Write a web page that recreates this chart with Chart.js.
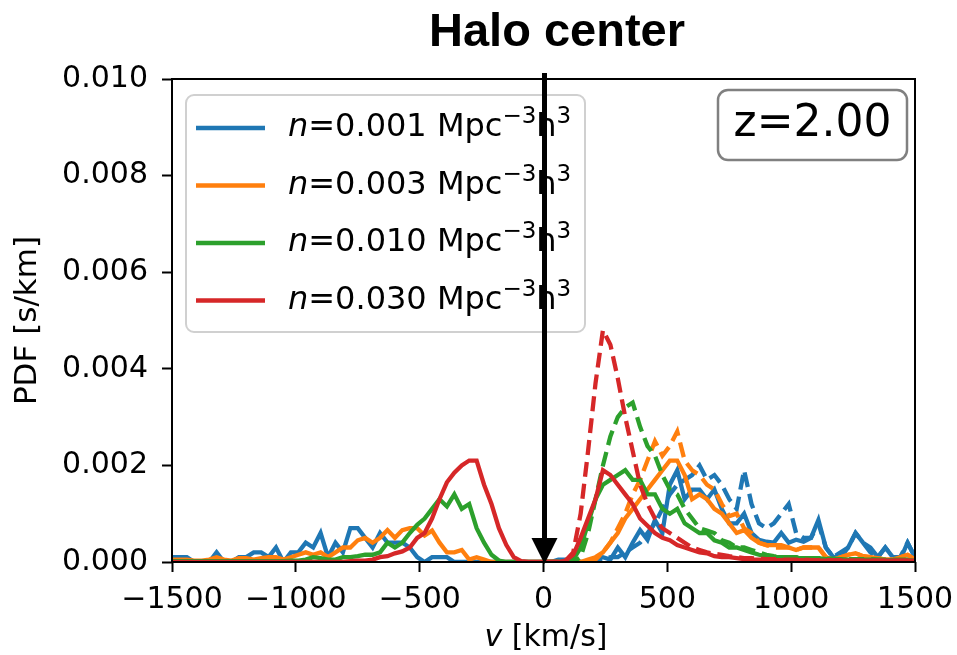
<!DOCTYPE html>
<html>
<head>
<meta charset="utf-8">
<script src="https://cdn.jsdelivr.net/npm/chart.js@4.4.1/dist/chart.umd.min.js"></script>
<style>
  html, body { margin: 0; padding: 0; background: #fff; }
  #wrap { width: 957px; height: 655px; }
</style>
</head>
<body>
<div id="wrap"><canvas id="pdf" width="957" height="655"></canvas></div>
<script>
// velocity bins [km/s], 30 km/s apart
const V_FULL = [
  -1500, -1470, -1440, -1410, -1380, -1350, -1320, -1290, -1260, -1230,
  -1200, -1170, -1140, -1110, -1080, -1050, -1020, -990, -960, -930,
  -900, -870, -840, -810, -780, -750, -720, -690, -660, -630,
  -600, -570, -540, -510, -480, -450, -420, -390, -360, -330,
  -300, -270, -240, -210, -180, -150, -120, -90, -60, -30,
  0, 30, 60, 90, 120, 150, 180, 210, 240, 270,
  300, 330, 360, 390, 420, 450, 480, 510, 540, 570,
  600, 630, 660, 690, 720, 750, 780, 810, 840, 870,
  900, 930, 960, 990, 1020, 1050, 1080, 1110, 1140, 1170,
  1200, 1230, 1260, 1290, 1320, 1350, 1380, 1410, 1440, 1470,
  1500,
];
const V_POS = V_FULL.slice(50);

const X_TICKS = [-1500, -1000, -500, 0, 500, 1000, 1500];
const Y_TICKS = [0, 0.002, 0.004, 0.006, 0.008, 0.010];

const DENSITIES = ["0.001", "0.003", "0.010", "0.030"];
const COLORS = ["#1f77b4", "#ff7f0e", "#2ca02c", "#d62728"];
const REDSHIFT = "z=2.00";

// solid lines, full velocity range
const BLUE_SOLID = [
  .0001, .0001, .0001, 0, 0, 0, .0002, 0, 0, .0001,
  .0001, .0002, .0002, .0001, .0003, 0, .0002, .0002, .0004, .0003,
  .0006, .0001, .0004, .0002, .0007, .0007, .0005, .0003, .0006, .0004,
  .0004, .0004, .0003, .0001, 0, .0001, .0001, .0001, 0, 0,
  0, 0, 0, 0, 0, 0, 0, 0, 0, 0,
  0, 0, .00005, .00005, 0, 0, 0, .00005, .0001, .00005,
  .0003, .0001, .0004, .00066, .00046, .00087, .0006, .0016, .0019, .0013,
  .0015, .0015, .0013, .0015, .0011, .0008, .0008, .001, .0006, .00046,
  .00042, .0004, .0006, .0004, .00046, .00042, .0005, .00087, .0003, .0001,
  .0001, .0003, .0006, .0004, .0003, .0001, .0003, .0001, .00005, .0004,
  .0001,
];
const ORANGE_SOLID = [
  .00005, .00005, .00005, .00003, .00003, .00005, .0001, .00005, .00003, .00008,
  .00008, .00005, .00008, .0001, .0001, .00005, .0001, .00015, .0002, .00015,
  .0002, .0001, .0002, .0003, .0003, .00045, .0005, .0004, .0005, .00066,
  .0005, .00066, .0007, .0007, .00055, .00065, .0004, .0002, .0002, .00025,
  .00005, .0001, .00005, 0, 0, 0, 0, 0, 0, 0,
  0, 0, 0, 0, 0, 0, .00005, .0001, .0002, .0004,
  .0006, .0009, .0011, .0013, .0015, .0017, .0019, .0021, .0021, .0018,
  .0013, .0014, .0013, .0011, .001, .0008, .0006, .00066, .0005, .0004,
  .00035, .00035, .00035, .0003, .00025, .0003, .0003, .0003, .0001, .00005,
  .0001, .00015, .00018, .00012, .0001, .00008, .00005, .00005, .0001, .00015,
  .00005,
];
const GREEN_SOLID = [
  .00002, .00002, .00002, .00002, .00002, .00002, .00002, .00002, .00002, .00002,
  .00002, .00002, .00002, .00002, .00002, .00002, .00003, .00003, .00005, .0001,
  .00008, .00005, .00005, .0001, .0001, .00012, .00015, .00015, .0002, .0004,
  .0003, .0004, .0006, .00077, .0009, .0011, .0013, .00115, .0014, .0011,
  .0012, .0007, .0004, .00015, .00003, 0, 0, 0, 0, 0,
  0, 0, 0, 0, .00005, .0003, .0008, .0013, .0016, .0017,
  .0018, .0019, .0017, .0017, .0014, .0014, .0011, .001, .0011, .0008,
  .0007, .0006, .0006, .00045, .0004, .0003, .0003, .00025, .0002, .00015,
  .00012, .0001, .0001, .0001, .00008, .00008, .00008, .00008, .00006, .00006,
  .00006, .00005, .00005, .00005, .00005, .00005, .00004, .00004, .00004, .00004,
  .00003,
];
const RED_SOLID = [
  0, 0, 0, 0, 0, 0, 0, 0, 0, 0,
  0, 0, 0, 0, 0, 0, 0, 0, 0, 0,
  0, 0, 0, 0, .00002, .00003, .00003, .00005, .0001, .00012,
  .00018, .00022, .0003, .0005, .0006, .0009, .0013, .00165, .00185, .002,
  .0021, .0021, .0016, .0012, .0007, .00035, .0001, .00002, 0, 0,
  0, 0, 0, .00003, .00015, .0005, .0009, .0013, .0019, .0018,
  .0016, .0014, .0012, .0009, .00075, .0006, .0005, .00045, .00035, .0003,
  .00025, .0002, .00018, .00012, .0001, .0001, .00008, .00006, .00005, .00005,
  .00005, .00004, .00004, .00004, .00004, .00004, .00003, .00003, .00003, .00003,
  .00003, .00003, .00003, .00003, .00003, .00003, .00003, .00003, .00003, .00003,
  .00003,
];

// dashed lines, v >= 0 only
const BLUE_DASHED = [
  0, 0, 0, 0, 0, 0, 0, 0, .00005, .0001,
  .0001, .0002, .0003, .0004, .0006, .0008, .0011, .0014, .0016, .0017,
  .0018, .002, .0017, .0018, .0016, .0013, .0011, .0019, .0012, .0008,
  .0007, .0008, .001, .0012, .0006, .0005, .0005, .0008, .0003, .0001,
  .0002, .0003, .0006, .0004, .0002, .0001, .0003, .0001, .0001, .0004,
  .0001,
];
const ORANGE_DASHED = [
  0, 0, 0, 0, 0, 0, 0, .00005, .0002, .0004,
  .0007, .001, .0014, .0017, .0021, .0025, .0022, .0024, .0027, .0021,
  .0019, .0018, .0016, .0015, .0012, .00095, .001, .0007, .0006, .0004,
  .00035, .0003, .0003, .0003, .00025, .0003, .0003, .0003, .0001, .00005,
  .0001, .00015, .00018, .00012, .0001, .00008, .00005, .00005, .0001, .00015,
  .00005,
];
const GREEN_DASHED = [
  0, 0, 0, 0, 0, .0001, .0006, .0013, .002, .0026,
  .003, .0032, .0033, .0028, .0024, .0022, .0018, .0015, .0014, .0011,
  .0009, .0007, .00065, .0006, .00045, .0004, .0003, .0003, .00025, .0002,
  .00015, .00012, .0001, .0001, .0001, .00008, .00008, .00008, .00007, .00007,
  .00006, .00006, .00006, .00006, .00006, .00005, .00005, .00005, .00005, .00005,
  .00005,
];
const RED_DASHED = [
  0, 0, 0, .00003, .0002, .001, .0023, .0037, .0048, .0045,
  .0038, .003, .0023, .0016, .0012, .0009, .0007, .0006, .0005, .0004,
  .0003, .00025, .0002, .00017, .00015, .00012, .0001, .00008, .00008, .00007,
  .00006, .00006, .00005, .00005, .00005, .00005, .00004, .00004, .00004, .00004,
  .00004, .00003, .00003, .00003, .00003, .00003, .00003, .00003, .00003, .00003,
  .00003,
];

const SOLIDS = [BLUE_SOLID, ORANGE_SOLID, GREEN_SOLID, RED_SOLID];
const DASHES = [BLUE_DASHED, ORANGE_DASHED, GREEN_DASHED, RED_DASHED];

const FONT = "'DejaVu Sans'";
const LW = 4.3;

function pts(xs, ys) {
  return xs.map((x, i) => ({ x, y: ys[i] }));
}

const datasets = [];
COLORS.forEach((c, i) => {
  datasets.push({
    label: `n=${DENSITIES[i]} Mpc⁻³h³`,
    data: pts(V_FULL, SOLIDS[i]),
    borderColor: c,
    borderWidth: LW,
    pointRadius: 0,
    tension: 0,
    order: 8 - 2 * i,
  });
  datasets.push({
    label: `n=${DENSITIES[i]} (dashed)`,
    data: pts(V_POS, DASHES[i]),
    borderColor: c,
    borderWidth: LW,
    borderDash: [15, 7],
    pointRadius: 0,
    tension: 0,
    order: 7 - 2 * i,
  });
});

function roundRect(ctx, x, y, w, h, r) {
  ctx.beginPath();
  ctx.moveTo(x + r, y);
  ctx.arcTo(x + w, y, x + w, y + h, r);
  ctx.arcTo(x + w, y + h, x, y + h, r);
  ctx.arcTo(x, y + h, x, y, r);
  ctx.arcTo(x, y, x + w, y, r);
  ctx.closePath();
}

function drawLegend(ctx) {
  ctx.save();
  roundRect(ctx, 186, 95, 399, 237, 8);
  ctx.fillStyle = "rgba(255,255,255,0.8)";
  ctx.fill();
  ctx.strokeStyle = "#d0d0d0";
  ctx.lineWidth = 2;
  ctx.stroke();

  ctx.textBaseline = "alphabetic";
  ctx.textAlign = "left";
  DENSITIES.forEach((d, i) => {
    const yl = 128 + i * 57.5;
    const yb = 136 + i * 57.5;
    ctx.strokeStyle = COLORS[i];
    ctx.lineWidth = LW;
    ctx.beginPath();
    ctx.moveTo(196, yl);
    ctx.lineTo(265, yl);
    ctx.stroke();

    ctx.fillStyle = "#000";
    let x = 288;
    const parts = [
      ["n", `italic 32px ${FONT}`, 0],
      [`=${d} Mpc`, `32px ${FONT}`, 0],
      ["−3", `23px ${FONT}`, -13],
      ["h", `32px ${FONT}`, 0],
      ["3", `23px ${FONT}`, -13],
    ];
    parts.forEach(([t, f, dy]) => {
      ctx.font = f;
      ctx.fillText(t, x, yb + dy);
      x += ctx.measureText(t).width;
    });
  });
  ctx.restore();
}

const decor = {
  id: "decor",
  afterDatasetsDraw(chart) {
    const ctx = chart.ctx;
    const a = chart.chartArea;
    const xs = chart.scales.x;

    ctx.save();
    // frame
    ctx.strokeStyle = "#000";
    ctx.lineWidth = 2;
    ctx.strokeRect(a.left, a.top, a.right - a.left, a.bottom - a.top);

    drawLegend(ctx);

    // arrow at v = 0
    const x0 = xs.getPixelForValue(0) + 1;
    ctx.fillStyle = "#000";
    ctx.fillRect(x0 - 2.5, a.top - 6, 5, a.bottom - a.top - 16);
    ctx.beginPath();
    ctx.moveTo(x0 - 13, a.bottom - 24);
    ctx.lineTo(x0 + 13, a.bottom - 24);
    ctx.lineTo(x0, a.bottom + 2);
    ctx.closePath();
    ctx.fill();

    // redshift box
    roundRect(ctx, 718, 90, 189, 70, 10);
    ctx.fillStyle = "#fff";
    ctx.fill();
    ctx.strokeStyle = "#808080";
    ctx.lineWidth = 2.5;
    ctx.stroke();
    ctx.fillStyle = "#000";
    ctx.font = `44px ${FONT}`;
    ctx.textAlign = "center";
    ctx.textBaseline = "alphabetic";
    ctx.fillText(REDSHIFT, 812.5, 136);

    // title
    ctx.font = "bold 47px 'Liberation Sans'";
    ctx.fillText("Halo center", 557, 46);

    // y label
    ctx.save();
    ctx.translate(28, (a.top + a.bottom) / 2);
    ctx.rotate(-Math.PI / 2);
    ctx.font = `31px ${FONT}`;
    ctx.textBaseline = "middle";
    ctx.fillText("PDF [s/km]", 0, 0);
    ctx.restore();

    // x label with italic v
    ctx.textAlign = "left";
    ctx.font = `italic 30px ${FONT}`;
    const w1 = ctx.measureText("v").width;
    ctx.font = `30px ${FONT}`;
    const w2 = ctx.measureText(" [km/s]").width;
    const xl = 546 - (w1 + w2) / 2;
    ctx.font = `italic 30px ${FONT}`;
    ctx.fillText("v", xl, 646);
    ctx.font = `30px ${FONT}`;
    ctx.fillText(" [km/s]", xl + w1, 646);
    ctx.restore();
  },
};

new Chart(document.getElementById("pdf"), {
  type: "line",
  data: { datasets },
  plugins: [decor],
  options: {
    responsive: false,
    animation: false,
    devicePixelRatio: 1,
    layout: { padding: { top: 79, right: 42, left: 0, bottom: 0 } },
    plugins: { legend: { display: false }, tooltip: { enabled: false } },
    scales: {
      x: {
        type: "linear",
        min: -1500,
        max: 1500,
        afterBuildTicks: (s) => { s.ticks = X_TICKS.map((v) => ({ value: v })); },
        afterFit: (s) => { s.height = 93; s.paddingLeft = 0; s.paddingRight = 0; },
        border: { display: false },
        grid: { drawOnChartArea: false, drawTicks: true, tickLength: 10, tickWidth: 2, tickColor: "#000" },
        ticks: {
          color: "#000",
          font: { family: "DejaVu Sans", size: 30 },
          padding: 10,
          maxRotation: 0,
          callback: (v) => (v < 0 ? "−" + Math.abs(v) : String(v)),
        },
      },
      y: {
        type: "linear",
        min: 0,
        max: 0.01,
        afterBuildTicks: (s) => { s.ticks = Y_TICKS.map((v) => ({ value: v })); },
        afterFit: (s) => { s.width = 172; s.paddingTop = 0; s.paddingBottom = 0; },
        border: { display: false },
        grid: { drawOnChartArea: false, drawTicks: true, tickLength: 10, tickWidth: 2, tickColor: "#000" },
        ticks: {
          color: "#000",
          font: { family: "DejaVu Sans", size: 30 },
          padding: 14,
          callback: (v) => v.toFixed(3),
        },
      },
    },
  },
});
</script>
</body>
</html>
